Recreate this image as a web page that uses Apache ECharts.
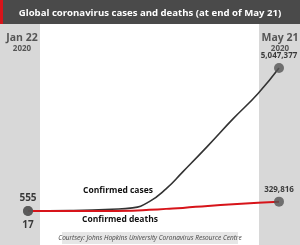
<!doctype html>
<html>
<head>
<meta charset="UTF-8">
<title>Global coronavirus cases and deaths</title>
<script src="https://cdn.jsdelivr.net/npm/echarts@6/dist/echarts.min.js"></script>
<style>
  html, body { margin: 0; padding: 0; background: #fff; }
  #main { width: 300px; height: 245px; }
</style>
</head>
<body>
<div id="main"></div>
<script>
// days since Jan 22 2020
var days   = [0, 20, 40, 50, 58, 66, 74, 86, 98, 110, 120];
var cases  = [555, 15000, 60000, 110000, 330000, 780000, 1380000, 2300000, 3250000, 4150000, 5047377];
var deaths = [17, 800, 3000, 9000, 40000, 75000, 110000, 180000, 240000, 290000, 329816];
var startLabel = ['Jan 22', '2020'];
var endLabel = ['May 21', '2020'];

var font = '"Open Sans", sans-serif';
var last = days.length - 1;
function pairs(vals) {
  return days.map(function (d, i) { return [d, vals[i]]; });
}
function fmt(v) { return v.toLocaleString('en-US'); }

var chart = echarts.init(document.getElementById('main'));
chart.setOption({
  animation: false,
  grid: { left: 28, right: 21, top: 68, bottom: 34 },
  xAxis: { type: 'value', min: days[0], max: days[last], show: false },
  yAxis: { type: 'value', min: 0, max: cases[last], show: false },
  graphic: [
    { type: 'rect', shape: { x: 0, y: 0, width: 300, height: 24 }, style: { fill: '#4a4a4a' }, z: -10 },
    { type: 'rect', shape: { x: 0, y: 0, width: 3, height: 24 }, style: { fill: '#d7141a' }, z: -9 },
    { type: 'text', x: 150, y: 13, style: { text: 'Global coronavirus cases and deaths (at end of May 21)', fill: '#fff', font: 'bold 9.6px ' + font, textAlign: 'center', textVerticalAlign: 'middle' } },
    { type: 'rect', shape: { x: 0, y: 24, width: 40, height: 221 }, style: { fill: '#d8d8d8' }, z: -10 },
    { type: 'rect', shape: { x: 259, y: 24, width: 41, height: 221 }, style: { fill: '#d8d8d8' }, z: -10 },
    { type: 'text', x: 22, y: 38, style: { text: startLabel[0], fill: '#555', font: 'bold 10.5px ' + font, textAlign: 'center', textVerticalAlign: 'middle' } },
    { type: 'text', x: 22, y: 49, style: { text: startLabel[1], fill: '#555', font: 'bold 8px ' + font, textAlign: 'center', textVerticalAlign: 'middle' } },
    { type: 'text', x: 280, y: 38, style: { text: endLabel[0], fill: '#555', font: 'bold 10.5px ' + font, textAlign: 'center', textVerticalAlign: 'middle' } },
    { type: 'text', x: 280, y: 49, style: { text: endLabel[1], fill: '#555', font: 'bold 8px ' + font, textAlign: 'center', textVerticalAlign: 'middle' } },
    { type: 'text', x: 118, y: 191, style: { text: 'Confirmed cases', fill: '#111', font: 'bold 8.5px ' + font, textAlign: 'center', textVerticalAlign: 'middle' } },
    { type: 'text', x: 120, y: 220, style: { text: 'Confirmed deaths', fill: '#111', font: 'bold 8.5px ' + font, textAlign: 'center', textVerticalAlign: 'middle' } },
    { type: 'rect', shape: { x: 62, y: 232, width: 176, height: 12 }, style: { fill: '#e6e6e6' }, z: -5 },
    { type: 'text', x: 150, y: 238, style: { text: 'Courtsey: Johns Hopkins University Coronavirus Resource Centre', fill: '#444', font: 'italic 6.5px ' + font, textAlign: 'center', textVerticalAlign: 'middle' } }
  ],
  series: [
    {
      type: 'line', data: pairs(cases), smooth: 0.5, showSymbol: false,
      lineStyle: { color: '#333', width: 1.6 }, z: 2
    },
    {
      type: 'line', data: pairs(deaths), smooth: 0.5, showSymbol: false,
      lineStyle: { color: '#d7141a', width: 2 }, z: 3
    },
    {
      type: 'scatter', symbolSize: 10, itemStyle: { color: '#555' }, z: 5,
      label: { show: true, color: '#111', fontFamily: font, fontWeight: 'bold' },
      data: [
        { value: [days[0], cases[0]], label: { position: 'top', distance: 3, fontSize: 10, formatter: fmt(cases[0]) } },
        { value: [days[0], deaths[0]], label: { position: 'bottom', distance: 4, fontSize: 10, formatter: fmt(deaths[0]) } },
        { value: [days[last], cases[last]], label: { position: 'top', distance: 3, fontSize: 8, formatter: fmt(cases[last]) } },
        { value: [days[last], deaths[last]], label: { position: 'top', distance: 3, fontSize: 8, formatter: fmt(deaths[last]) } }
      ]
    }
  ]
});
</script>
</body>
</html>
